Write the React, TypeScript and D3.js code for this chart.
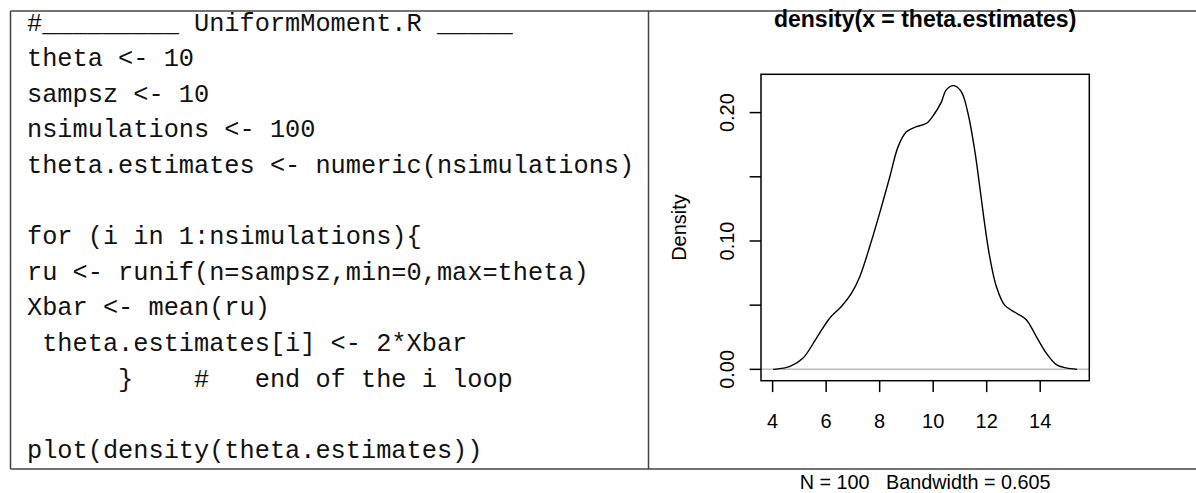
import React from "react";
import * as d3 from "d3";

// R source shown in the left panel
const codeLines: string[] = [
  "#_________ UniformMoment.R _____",
  "theta <- 10",
  "sampsz <- 10",
  "nsimulations <- 100",
  "theta.estimates <- numeric(nsimulations)",
  "",
  "for (i in 1:nsimulations){",
  "ru <- runif(n=sampsz,min=0,max=theta)",
  "Xbar <- mean(ru)",
  " theta.estimates[i] <- 2*Xbar",
  "      }    #   end of the i loop",
  "",
  "plot(density(theta.estimates))",
];

// Kernel density estimate of theta.estimates (x, density)
const densityX: number[] = [
  4.02, 4.4, 4.65, 5.14, 5.64, 6.14, 6.57, 6.95, 7.26, 7.63, 8.0, 8.38, 8.69,
  9.0, 9.37, 9.75, 10.06, 10.3, 10.49, 10.77, 11.05, 11.3, 11.55, 11.74, 11.92,
  12.11, 12.36, 12.67, 13.1, 13.48, 13.85, 14.22, 14.6, 14.97, 15.38,
];
const densityY: number[] = [
  0.0, 0.001, 0.0023, 0.0089, 0.0244, 0.04, 0.049, 0.0594, 0.0724, 0.0957,
  0.1217, 0.15, 0.1735, 0.185, 0.189, 0.1917, 0.1995, 0.208, 0.2177, 0.221,
  0.2163, 0.1995, 0.171, 0.1424, 0.1139, 0.088, 0.0646, 0.05, 0.0439, 0.0387,
  0.0257, 0.0128, 0.0037, 0.0011, 0.0,
];

const xTicks: number[] = [4, 6, 8, 10, 12, 14];
const yTicks: number[] = [0, 0.05, 0.1, 0.15, 0.2];
const yTickLabels: string[] = ["0.00", "", "0.10", "", "0.20"];

const titleText = "density(x = theta.estimates)";
const yLabel = "Density";
const subText = "N = 100   Bandwidth = 0.605";

const W = 1196;
const H = 493;
const plot = { left: 761, right: 1089.3, top: 74.3, bottom: 380.7 };
const SANS = "'Liberation Sans', Arial, Helvetica, sans-serif";
const MONO = "'Liberation Mono', 'Courier New', monospace";

// R-style axis range: data range extended by 4% on both sides
function padded(lo: number, hi: number): [number, number] {
  const r = hi - lo;
  return [lo - 0.04 * r, hi + 0.04 * r];
}

export default function App() {
  const x = d3
    .scaleLinear()
    .domain(padded(d3.min(densityX)!, d3.max(densityX)!))
    .range([plot.left, plot.right]);
  const y = d3
    .scaleLinear()
    .domain(padded(0, d3.max(densityY)!))
    .range([plot.bottom, plot.top]);

  const pts = densityX.map((v, i) => [v, densityY[i]] as [number, number]);
  const line = d3
    .line<[number, number]>()
    .x((d) => x(d[0]))
    .y((d) => y(d[1]))
    .curve(d3.curveCatmullRom.alpha(0.5));

  const cx = (plot.left + plot.right) / 2;
  const cy = (plot.top + plot.bottom) / 2;
  const tick = 11.4;

  return (
    <svg
      width={W}
      height={H}
      viewBox={`0 0 ${W} ${H}`}
      style={{ position: "fixed", left: 0, top: 0, background: "#fff" }}
    >
      <rect x={0} y={0} width={W} height={H} fill="#fff" />

      {/* frame of the two panels */}
      <g stroke="#444" strokeWidth={1.5} fill="none">
        <line x1={10.5} x2={W} y1={11} y2={11} />
        <line x1={10.5} x2={W} y1={469} y2={469} />
        <line x1={10.5} x2={10.5} y1={11} y2={469} />
        <line x1={648.5} x2={648.5} y1={11} y2={469} />
      </g>

      {/* code listing */}
      <g fontFamily={MONO} fontSize={25.3} fill="#111" style={{ whiteSpace: "pre" }}>
        {codeLines.map((t, i) => (
          <text key={i} x={27} y={30.5 + 35.6 * i} xmlSpace="preserve">
            {t}
          </text>
        ))}
      </g>

      {/* density plot */}
      <line
        x1={plot.left}
        x2={plot.right}
        y1={y(0)}
        y2={y(0)}
        stroke="#bebebe"
        strokeWidth={1.5}
      />
      <path d={line(pts) ?? ""} fill="none" stroke="#000" strokeWidth={1.4} />
      <rect
        x={plot.left}
        y={plot.top}
        width={plot.right - plot.left}
        height={plot.bottom - plot.top}
        fill="none"
        stroke="#000"
        strokeWidth={1.5}
      />

      {/* x axis */}
      <g stroke="#000" strokeWidth={1.5}>
        {xTicks.map((t) => (
          <line key={t} x1={x(t)} x2={x(t)} y1={plot.bottom} y2={plot.bottom + tick} />
        ))}
      </g>
      <g fontFamily={SANS} fontSize={20} textAnchor="middle" fill="#000">
        {xTicks.map((t) => (
          <text key={t} x={x(t)} y={428}>
            {t}
          </text>
        ))}
      </g>

      {/* y axis */}
      <g stroke="#000" strokeWidth={1.5}>
        {yTicks.map((t) => (
          <line key={t} x1={plot.left - tick} x2={plot.left} y1={y(t)} y2={y(t)} />
        ))}
      </g>
      <g fontFamily={SANS} fontSize={20} textAnchor="middle" fill="#000">
        {yTicks.map((t, i) =>
          yTickLabels[i] ? (
            <text key={t} transform={`translate(733.5,${y(t)}) rotate(-90)`}>
              {yTickLabels[i]}
            </text>
          ) : null
        )}
        <text transform={`translate(685.5,${cy}) rotate(-90)`}>{yLabel}</text>
      </g>

      {/* titles */}
      <text
        x={cx}
        y={27}
        textAnchor="middle"
        fontFamily={SANS}
        fontWeight="bold"
        fontSize={23}
        fill="#000"
      >
        {titleText}
      </text>
      <text
        x={cx}
        y={488.5}
        textAnchor="middle"
        fontFamily={SANS}
        fontSize={19.8}
        fill="#000"
        style={{ whiteSpace: "pre" }}
        xmlSpace="preserve"
      >
        {subText}
      </text>
    </svg>
  );
}
